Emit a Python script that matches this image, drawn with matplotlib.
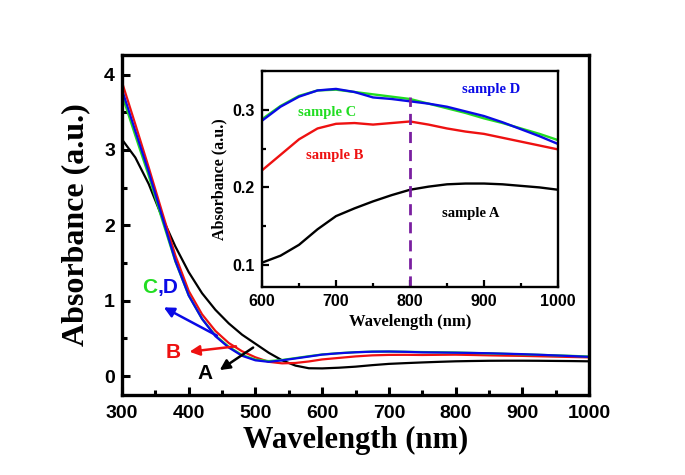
import numpy as np
import matplotlib
matplotlib.use("Agg")
import matplotlib.pyplot as plt
from matplotlib.ticker import MultipleLocator

# ---- data ----
wl = [300, 320, 340, 360, 380, 400, 420, 440, 460, 480, 500, 520, 540, 560, 580,
      600, 625, 650, 675, 700, 725, 750, 775, 800, 825, 850, 875, 900, 925, 950, 975, 1000]
sample_a = [3.14, 2.90, 2.55, 2.11, 1.72, 1.38, 1.10, 0.88, 0.70, 0.55, 0.43, 0.31, 0.21, 0.14, 0.105,
            0.103, 0.112, 0.126, 0.146, 0.163, 0.173, 0.182, 0.190, 0.197, 0.201, 0.204, 0.205, 0.205,
            0.204, 0.202, 0.200, 0.197]
sample_b = [3.90, 3.34, 2.77, 2.18, 1.60, 1.13, 0.82, 0.60, 0.44, 0.33, 0.25, 0.19, 0.17, 0.175, 0.195,
            0.222, 0.242, 0.262, 0.276, 0.282, 0.283, 0.281, 0.283, 0.285, 0.281, 0.276, 0.272, 0.269,
            0.264, 0.259, 0.254, 0.249]
sample_c = [3.73, 3.19, 2.66, 2.08, 1.52, 1.07, 0.76, 0.54, 0.39, 0.28, 0.22, 0.20, 0.215, 0.24, 0.265,
            0.288, 0.305, 0.318, 0.325, 0.326, 0.323, 0.320, 0.317, 0.314, 0.308, 0.302, 0.296, 0.289,
            0.283, 0.276, 0.269, 0.261]
sample_d = [3.80, 3.25, 2.71, 2.12, 1.53, 1.07, 0.76, 0.53, 0.38, 0.27, 0.21, 0.19, 0.21, 0.235, 0.26,
            0.286, 0.304, 0.317, 0.325, 0.327, 0.323, 0.316, 0.314, 0.311, 0.308, 0.304, 0.298, 0.292,
            0.284, 0.275, 0.266, 0.256]

x_ticks = [300, 400, 500, 600, 700, 800, 900, 1000]
y_ticks = [0, 1, 2, 3, 4]
inset_x_ticks = [600, 700, 800, 900, 1000]
inset_y_ticks = [0.1, 0.2, 0.3]

BLACK = "#000000"
RED = "#EE1111"
GREEN = "#22DD22"
BLUE = "#0A0AE6"
PURPLE = "#7A1FA0"

serif = ["Liberation Serif", "DejaVu Serif"]
sans = ["Liberation Sans", "DejaVu Sans"]

fig = plt.figure(figsize=(6.85, 4.75), dpi=100)
fig.patch.set_facecolor("white")

# ---- main axes ----
ax = fig.add_axes([0.1781, 0.1684, 0.6818, 0.7158])
for y, c in [(sample_a, BLACK), (sample_b, RED), (sample_c, GREEN), (sample_d, BLUE)]:
    ax.plot(wl, y, color=c, lw=1.6, solid_joinstyle="round")

ax.set_xlim(300, 1000)
ax.set_ylim(-0.25, 4.26)
ax.set_xticks(x_ticks)
ax.set_yticks(y_ticks)
ax.xaxis.set_minor_locator(MultipleLocator(50))
ax.yaxis.set_minor_locator(MultipleLocator(0.5))
ax.tick_params(which="major", direction="in", length=6, width=2.2,
               labelsize=14, pad=5, top=False, right=False)
ax.tick_params(axis="x", which="major", pad=7)
ax.tick_params(which="minor", direction="in", length=3.5, width=2.2, top=False, right=False)
for lab in ax.get_xticklabels() + ax.get_yticklabels():
    lab.set_fontfamily(sans)
    lab.set_fontweight("bold")
for s in ax.spines.values():
    s.set_linewidth(2.4)
ax.set_xlabel("Wavelength (nm)", fontsize=22, fontweight="bold", family=serif, labelpad=3)
ax.set_ylabel("Absorbance (a.u.)", fontsize=23, fontweight="bold", family=serif, labelpad=10)

# annotations in main axes
ax.text(330, 1.17, "C", color=GREEN, fontsize=15, fontweight="bold", family=sans,
        ha="left", va="center")
ax.text(353, 1.17, ",D", color=BLUE, fontsize=15, fontweight="bold", family=sans,
        ha="left", va="center")
ax.text(377, 0.31, "B", color=RED, fontsize=15, fontweight="bold", family=sans,
        ha="center", va="center")
ax.text(424, 0.04, "A", color=BLACK, fontsize=15, fontweight="bold", family=sans,
        ha="center", va="center")

arrow_kw = dict(arrowstyle="-|>,head_length=0.6,head_width=0.3", lw=1.8)
ax.annotate("", xy=(359, 0.93), xytext=(446, 0.52),
            arrowprops=dict(color=BLUE, **arrow_kw))
ax.annotate("", xy=(397, 0.32), xytext=(475, 0.40),
            arrowprops=dict(color=RED, **arrow_kw))
ax.annotate("", xy=(443, 0.06), xytext=(500, 0.40),
            arrowprops=dict(color=BLACK, **arrow_kw))

# ---- inset ----
ins = fig.add_axes([0.3825, 0.3964, 0.4321, 0.454])
ins.set_facecolor("white")
for y, c in [(sample_a, BLACK), (sample_b, RED), (sample_c, GREEN), (sample_d, BLUE)]:
    ins.plot(wl, y, color=c, lw=1.7, solid_joinstyle="round")
ins.plot([800, 800], [0.072, 0.316], color=PURPLE, lw=2, ls=(0, (4, 2.5)))
ins.set_xlim(600, 1000)
ins.set_ylim(0.072, 0.350)
ins.set_xticks(inset_x_ticks)
ins.set_yticks(inset_y_ticks)
ins.set_yticklabels(["0.1", "0.2", "0.3"])
ins.xaxis.set_minor_locator(MultipleLocator(50))
ins.yaxis.set_minor_locator(MultipleLocator(0.05))
ins.tick_params(which="major", direction="in", length=5, width=1.6,
                labelsize=11.5, pad=5, top=False, right=False)
ins.tick_params(which="minor", direction="in", length=3, width=1.6, top=False, right=False)
for lab in ins.get_xticklabels() + ins.get_yticklabels():
    lab.set_fontfamily(sans)
    lab.set_fontweight("bold")
for s in ins.spines.values():
    s.set_linewidth(1.7)
ins.set_xlabel("Wavelength (nm)", fontsize=12, fontweight="bold", family=serif, labelpad=4)
ins.set_ylabel("Absorbance (a.u.)", fontsize=11.5, fontweight="bold", family=serif, labelpad=4)

ins.text(910, 0.326, "sample D", color=BLUE, fontsize=10.5, fontweight="bold", family=serif,
         ha="center", va="center")
ins.text(688, 0.297, "sample C", color=GREEN, fontsize=10.5, fontweight="bold", family=serif,
         ha="center", va="center")
ins.text(698, 0.241, "sample B", color=RED, fontsize=10.5, fontweight="bold", family=serif,
         ha="center", va="center")
ins.text(882, 0.166, "sample A", color=BLACK, fontsize=10.5, fontweight="bold", family=serif,
         ha="center", va="center")

fig.savefig("out.png", dpi=100, facecolor="white")
